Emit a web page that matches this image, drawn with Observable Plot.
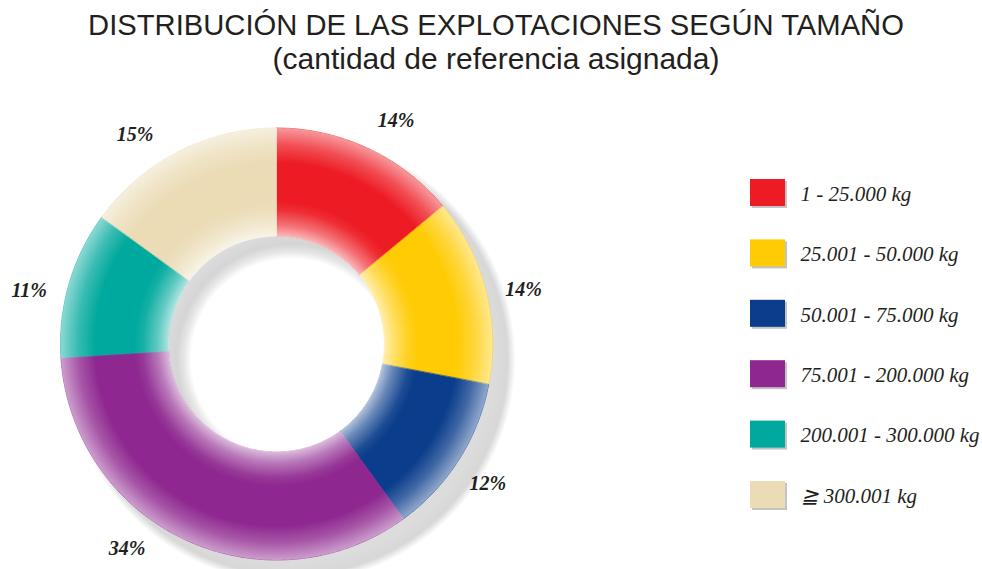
<!DOCTYPE html>
<html>
<head>
<meta charset="utf-8">
<script src="https://cdn.jsdelivr.net/npm/d3@7"></script>
<script src="https://cdn.jsdelivr.net/npm/@observablehq/plot@0.6"></script>
<style>
  html, body { margin: 0; padding: 0; background: #fff; }
  #wrap { width: 982px; height: 569px; position: relative; overflow: hidden; }
  #head { position: relative; width: 982px; height: 85px; }
  .t { position: absolute; left: 0; width: 992px; text-align: center; color: #231f20;
       font-family: "Liberation Sans", Arial, sans-serif; white-space: nowrap; }
  #t1 { top: 11px; font-size: 29.2px; line-height: 29px; }
  #t2 { top: 43.5px; font-size: 30px; line-height: 30px; }
  svg { display: block; }
</style>
</head>
<body>
<div id="wrap">
  <div id="head">
    <div class="t" id="t1">DISTRIBUCIÓN DE LAS EXPLOTACIONES SEGÚN TAMAÑO</div>
    <div class="t" id="t2">(cantidad de referencia asignada)</div>
  </div>
  <div id="chart"></div>
</div>
<script>
// ---- data ----
const categories = ["1 - 25.000 kg", "25.001 - 50.000 kg", "50.001 - 75.000 kg",
                    "75.001 - 200.000 kg", "200.001 - 300.000 kg", "≧ 300.001 kg"];
const shares = [14, 14, 12, 34, 11, 15];
const pctLabels = ["14%", "14%", "12%", "34%", "11%", "15%"];
const colors = ["#ed1c24", "#ffcb05", "#0a3d8b", "#8e278f", "#00a99d", "#ebdcb6"];

// ---- layout ----
const W = 982, H = 484, SVG_TOP = 85;
const CX = 276, CY = 343.5;          // donut centre (page px)
const R = 216, R0 = 108;             // outer / inner radius
const LABEL_R = 253;
const labelNudgeDeg = [3, 2, 1, 11, -4, -7];
const SH = 15;                       // drop-shadow offset
const LEG_X = 750, LEG_W = 35, LEG_H = 27, LEG_Y0 = 192.5, LEG_STEP = 60.4, LEG_TX = 800;

const dx = px => px - CX;            // page px -> data
const dy = py => CY - py;

const rows = categories.map((cat, i) => ({cat, share: shares[i], label: pctLabels[i], i}));
const arcs = d3.pie().sort(null).value(d => d.share)(rows);

const slicePts = arcs.flatMap(a => {
  const n = Math.max(8, Math.ceil((a.endAngle - a.startAngle) / 0.01));
  const pts = [];
  for (let k = 0; k <= n; k++) {
    const t = a.startAngle + (a.endAngle - a.startAngle) * k / n;
    pts.push({cat: a.data.cat, x: R * Math.sin(t), y: R * Math.cos(t)});
  }
  for (let k = n; k >= 0; k--) {
    const t = a.startAngle + (a.endAngle - a.startAngle) * k / n;
    pts.push({cat: a.data.cat, x: R0 * Math.sin(t), y: R0 * Math.cos(t)});
  }
  return pts;
});

const disc = (rad, ox, oy) => d3.range(0, 360).map(d => {
  const t = d * Math.PI / 180;
  return {x: ox + rad * Math.sin(t), y: oy + rad * Math.cos(t)};
});
const SH_R = 224;
const shadowDisc = disc(SH_R, SH, -SH);
const glowDisc = disc(R, 0, 0);

const labelData = arcs.map((a, i) => {
  const t = (a.startAngle + a.endAngle) / 2 + labelNudgeDeg[i] * Math.PI / 180;
  return {label: a.data.label, x: LABEL_R * Math.sin(t), y: LABEL_R * Math.cos(t)};
});

const legend = rows.map((d, i) => {
  const yc = LEG_Y0 + i * LEG_STEP;
  return {cat: d.cat, x1: dx(LEG_X), x2: dx(LEG_X + LEG_W),
          y1: dy(yc - LEG_H / 2), y2: dy(yc + LEG_H / 2), tx: dx(LEG_TX), ty: dy(yc + 1)};
});

const chart = Plot.plot({
  width: W, height: H,
  marginTop: 0, marginRight: 0, marginBottom: 0, marginLeft: 0,
  x: {domain: [dx(0), dx(W)], axis: null},
  y: {domain: [dy(SVG_TOP + H), dy(SVG_TOP)], axis: null},
  color: {domain: categories, range: colors},
  style: {background: "white", overflow: "visible"},
  marks: [
    Plot.line(shadowDisc, {x: "x", y: "y", fill: "url(#shadowGrad)", stroke: "none", curve: "linear-closed"}),
    Plot.line(slicePts, {x: "x", y: "y", z: "cat", fill: "cat", stroke: "cat", strokeWidth: 0.6, curve: "linear-closed"}),
    Plot.line(glowDisc, {x: "x", y: "y", fill: "url(#glowGrad)", stroke: "none", curve: "linear-closed"}),
    Plot.text(labelData, {x: "x", y: "y", text: "label", fontFamily: "Liberation Serif, serif",
      fontStyle: "italic", fontWeight: "bold", fontSize: 20, fill: "#231f20"}),
    Plot.rect(legend, {x1: d => d.x1 + 2, x2: d => d.x2 + 2, y1: d => d.y1 - 2, y2: d => d.y2 - 2, fill: "#c4c4c4"}),
    Plot.rect(legend, {x1: "x1", x2: "x2", y1: "y1", y2: "y2", fill: "cat"}),
    Plot.text(legend, {x: "tx", y: "ty", text: "cat", textAnchor: "start", fontFamily: "Liberation Serif, serif",
      fontStyle: "italic", fontSize: 21, fill: "#231f20"})
  ]
});

// gradients
const svg = d3.select(chart);
const defs = svg.insert("defs", ":first-child");
const glow = defs.append("radialGradient").attr("id", "glowGrad")
  .attr("cx", 0.5).attr("cy", 0.5).attr("r", 0.5);
[[0, 0], [0.495, 0], [0.5, 0.68], [0.55, 0.38], [0.62, 0.08], [0.66, 0], [0.84, 0], [0.92, 0.22], [1, 0.55]]
  .forEach(([o, a]) => glow.append("stop").attr("offset", o).attr("stop-color", "#fff").attr("stop-opacity", a));
const sh = defs.append("radialGradient").attr("id", "shadowGrad")
  .attr("cx", 0.5).attr("cy", 0.5).attr("r", 0.5);
const hole = R0 / SH_R, outer = R / SH_R;
[[0, 0], [hole - 0.035, 0], [hole - 0.005, 0.2], [hole + 0.03, 0.36], [hole + 0.09, 0.3],
 [outer - 0.06, 0.3], [outer, 0.34], [1, 0]]
  .forEach(([o, a]) => sh.append("stop").attr("offset", o).attr("stop-color", "#8a8a8a").attr("stop-opacity", a));

document.getElementById("chart").appendChild(chart);
</script>
</body>
</html>
